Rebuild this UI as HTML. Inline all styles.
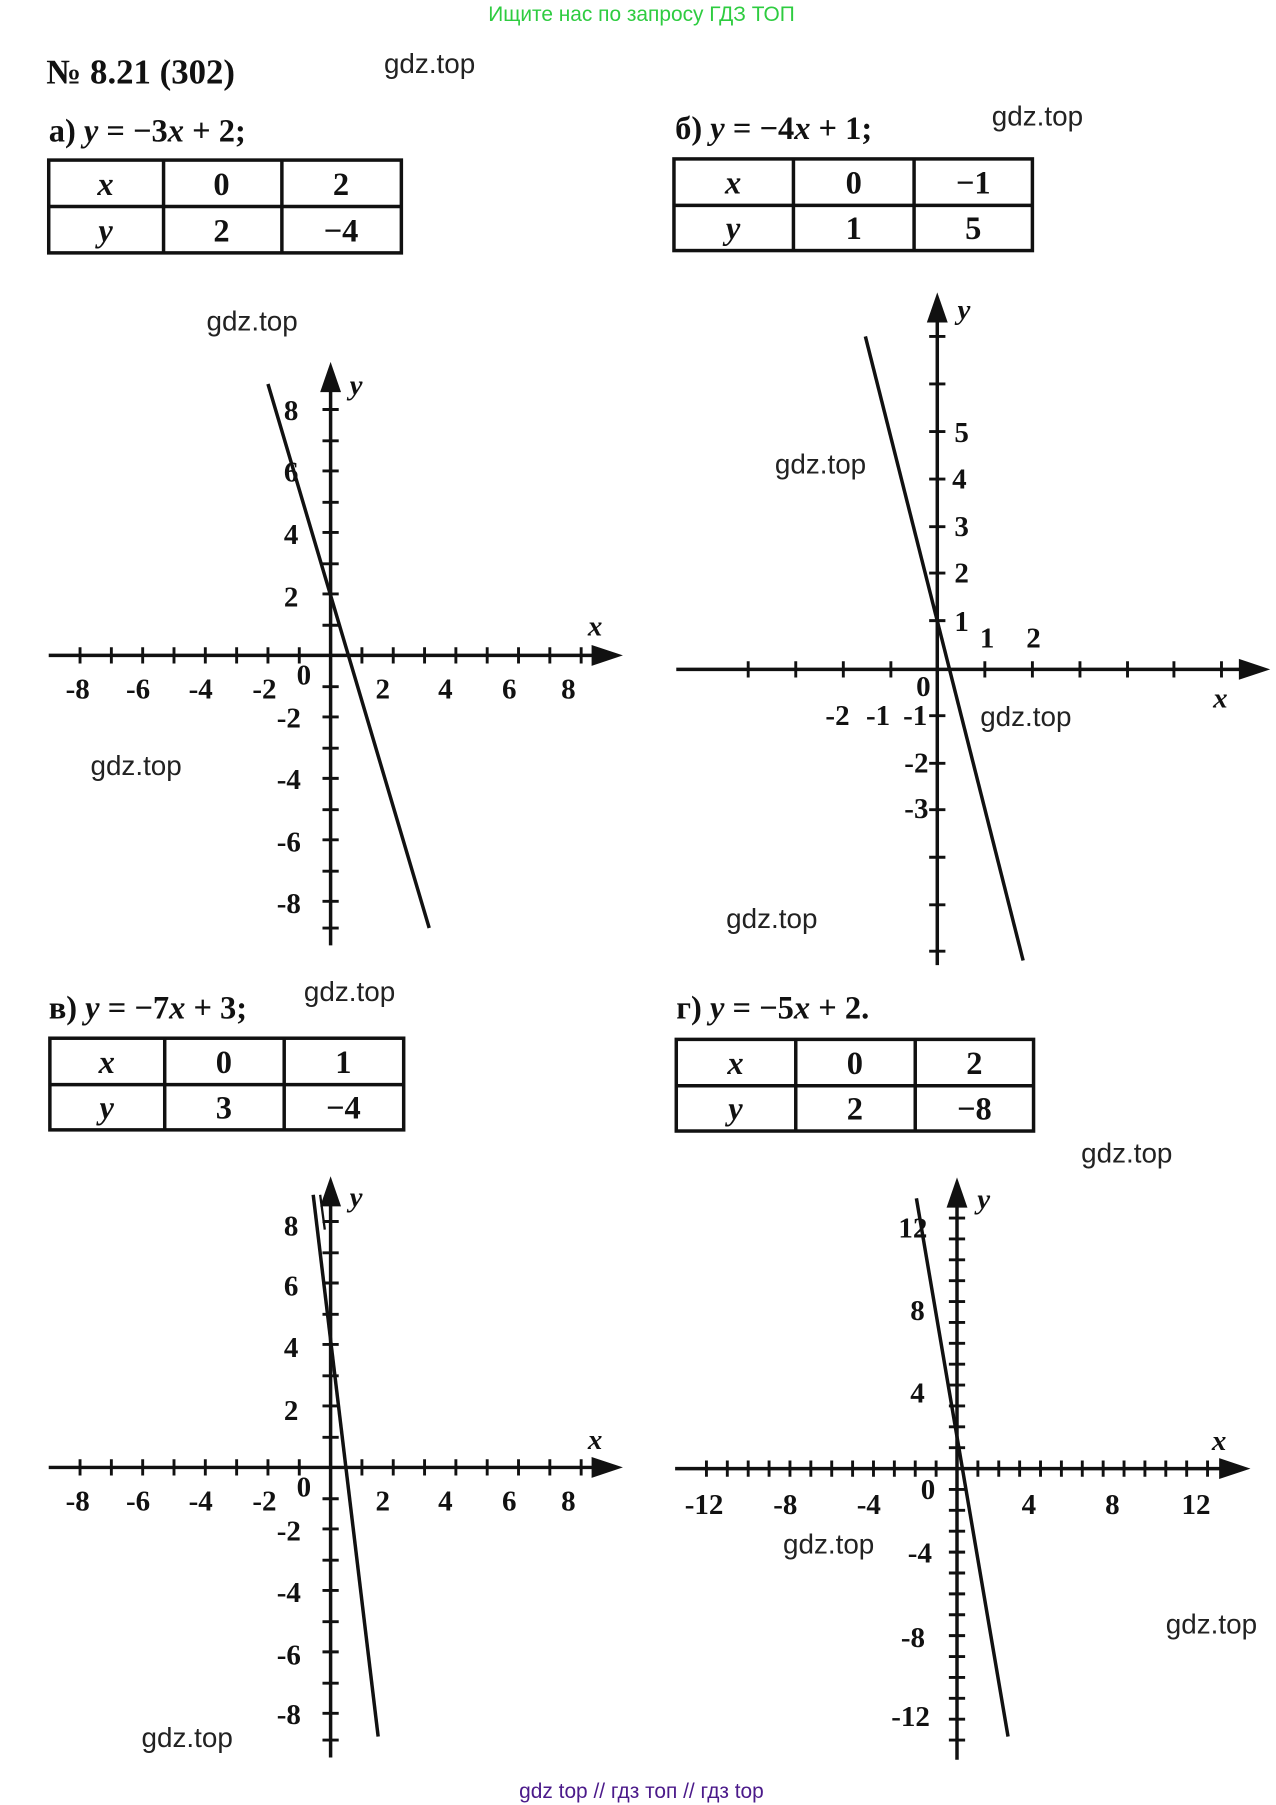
<!DOCTYPE html>
<html><head><meta charset="utf-8"><style>
html,body{margin:0;padding:0;background:#fff;}
svg{display:block}
.m{font-family:"Liberation Serif",serif;font-weight:bold;fill:#111}
.i{font-style:italic}
.w{font-family:"Liberation Sans","DejaVu Sans",sans-serif;font-size:24px;fill:#222}
.n{font-family:"Liberation Serif",serif;font-weight:bold;font-size:25px;fill:#111}
</style></head><body>
<svg width="1276" height="1805" viewBox="0 0 1100 1556" preserveAspectRatio="none" xmlns="http://www.w3.org/2000/svg">
<rect width="1100" height="1556" fill="#fff"/>
<text x="553" y="18" text-anchor="middle" font-family="Liberation Sans,sans-serif" font-size="18" fill="#2ecc40">Ищите нас по запросу ГДЗ ТОП</text>
<text x="553" y="1550" text-anchor="middle" font-family="Liberation Sans,sans-serif" font-size="18" fill="#4b1a8a">gdz top  //  гдз топ  //  гдз top</text>

<text x="40" y="72" class="m" font-size="30">№ 8.21 (302)</text>
<g class="w">
<text x="331" y="63">gdz.top</text>
<text x="855" y="108">gdz.top</text>
<text x="178" y="285">gdz.top</text>
<text x="668" y="408">gdz.top</text>
<text x="845" y="626">gdz.top</text>
<text x="78" y="668">gdz.top</text>
<text x="626" y="800">gdz.top</text>
<text x="262" y="863">gdz.top</text>
<text x="932" y="1002">gdz.top</text>
<text x="675" y="1339">gdz.top</text>
<text x="1005" y="1408">gdz.top</text>
<text x="122" y="1506">gdz.top</text>
</g>

<text x="42" y="122" class="m" font-size="28">а) <tspan class="i">y</tspan> = −3<tspan class="i">x</tspan> + 2;</text>
<text x="582" y="120" class="m" font-size="28">б) <tspan class="i">y</tspan> = −4<tspan class="i">x</tspan> + 1;</text>
<text x="42" y="878" class="m" font-size="28">в) <tspan class="i">y</tspan> = −7<tspan class="i">x</tspan> + 3;</text>
<text x="583" y="878" class="m" font-size="28">г) <tspan class="i">y</tspan> = −5<tspan class="i">x</tspan> + 2.</text>

<g fill="none" stroke="#111" stroke-width="3">
<rect x="42" y="138" width="304" height="80"/><line x1="42" y1="178" x2="346" y2="178"/><line x1="141" y1="138" x2="141" y2="218"/><line x1="243" y1="138" x2="243" y2="218"/>
<rect x="581" y="137" width="309" height="79"/><line x1="581" y1="177" x2="890" y2="177"/><line x1="684" y1="137" x2="684" y2="216"/><line x1="788" y1="137" x2="788" y2="216"/>
<rect x="43" y="895" width="305" height="79"/><line x1="43" y1="935" x2="348" y2="935"/><line x1="142" y1="895" x2="142" y2="974"/><line x1="245" y1="895" x2="245" y2="974"/>
<rect x="583" y="896" width="308" height="79"/><line x1="583" y1="936" x2="891" y2="936"/><line x1="686" y1="896" x2="686" y2="975"/><line x1="789" y1="896" x2="789" y2="975"/>
</g>
<g class="m" font-size="28" text-anchor="middle">
<text x="91" y="168" class="i">x</text><text x="191" y="168">0</text><text x="294" y="168">2</text>
<text x="91" y="208" class="i">y</text><text x="191" y="208">2</text><text x="294" y="208">−4</text>
<text x="632" y="167" class="i">x</text><text x="736" y="167">0</text><text x="839" y="167">−1</text>
<text x="632" y="206" class="i">y</text><text x="736" y="206">1</text><text x="839" y="206">5</text>
<text x="92" y="925" class="i">x</text><text x="193" y="925">0</text><text x="296" y="925">1</text>
<text x="92" y="964" class="i">y</text><text x="193" y="964">3</text><text x="296" y="964">−4</text>
<text x="634" y="926" class="i">x</text><text x="737" y="926">0</text><text x="840" y="926">2</text>
<text x="634" y="965" class="i">y</text><text x="737" y="965">2</text><text x="840" y="965">−8</text>
</g>

<g stroke="#111" stroke-width="3" fill="none">
<line x1="42" y1="565" x2="520" y2="565"/><line x1="285" y1="815" x2="285" y2="330"/>
</g>
<polygon points="537,565 510,556 510,574" fill="#111"/>
<polygon points="285,312 276,338 294,338" fill="#111"/>
<g stroke="#111" stroke-width="2.5">
<path d="M69 558v14M96 558v14M123 558v14M150 558v14M177 558v14M204 558v14M231 558v14M258 558v14M312 558v14M339 558v14M366 558v14M393 558v14M420 558v14M447 558v14M474 558v14M501 558v14"/>
<path d="M278 353h14M278 380h14M278 406h14M278 433h14M278 459h14M278 486h14M278 512h14M278 539h14M278 592h14M278 618h14M278 645h14M278 671h14M278 698h14M278 724h14M278 751h14M278 777h14M278 800h14"/>
</g>
<line x1="231" y1="331" x2="370" y2="800" stroke="#111" stroke-width="3"/>
<g class="n" text-anchor="middle">
<text x="67" y="602">-8</text><text x="119" y="602">-6</text><text x="173" y="602">-4</text><text x="228" y="602">-2</text><text x="262" y="590">0</text><text x="330" y="602">2</text><text x="384" y="602">4</text><text x="439" y="602">6</text><text x="490" y="602">8</text>
<text x="251" y="362">8</text><text x="251" y="415">6</text><text x="251" y="469">4</text><text x="251" y="523">2</text><text x="249" y="627">-2</text><text x="249" y="680">-4</text><text x="249" y="734">-6</text><text x="249" y="787">-8</text>
<text x="307" y="340" class="i">y</text><text x="513" y="548" class="i">x</text>
</g>

<g stroke="#111" stroke-width="3">
<line x1="583" y1="577" x2="1075" y2="577"/><line x1="808" y1="832" x2="808" y2="270"/>
</g>
<polygon points="1095,577 1068,568 1068,586" fill="#111"/>
<polygon points="808,252 799,278 817,278" fill="#111"/>
<g stroke="#111" stroke-width="2.5">
<path d="M645 570v14M686 570v14M727 570v14M768 570v14M849 570v14M890 570v14M931 570v14M972 570v14M1012 570v14M1053 570v14"/>
<path d="M801 290h14M801 331h14M801 372h14M801 413h14M801 454h14M801 494h14M801 535h14M801 617h14M801 658h14M801 698h14M801 739h14M801 780h14M801 820h14"/>
</g>
<line x1="746" y1="290" x2="882" y2="828" stroke="#111" stroke-width="3"/>
<g class="n" text-anchor="middle" font-size="22">
<text x="829" y="381">5</text><text x="827" y="421">4</text><text x="829" y="462">3</text><text x="829" y="502">2</text><text x="829" y="544">1</text>
<text x="851" y="558">1</text><text x="891" y="558">2</text><text x="796" y="600">0</text>
<text x="722" y="625">-2</text><text x="757" y="625">-1</text><text x="789" y="625">-1</text>
<text x="790" y="666">-2</text><text x="790" y="705">-3</text>
<text x="831" y="275" class="i">y</text><text x="1052" y="610" class="i">x</text>
</g>

<g stroke="#111" stroke-width="3">
<line x1="42" y1="1265" x2="520" y2="1265"/><line x1="285" y1="1515" x2="285" y2="1032"/>
</g>
<polygon points="537,1265 510,1256 510,1274" fill="#111"/>
<polygon points="285,1014 276,1040 294,1040" fill="#111"/>
<g stroke="#111" stroke-width="2.5">
<path d="M69 1258v14M96 1258v14M123 1258v14M150 1258v14M177 1258v14M204 1258v14M231 1258v14M258 1258v14M312 1258v14M339 1258v14M366 1258v14M393 1258v14M420 1258v14M447 1258v14M474 1258v14M501 1258v14"/>
<path d="M278 1053h14M278 1080h14M278 1106h14M278 1133h14M278 1159h14M278 1186h14M278 1212h14M278 1239h14M278 1292h14M278 1318h14M278 1345h14M278 1371h14M278 1398h14M278 1424h14M278 1451h14M278 1477h14M278 1500h14"/>
</g>
<line x1="270" y1="1030" x2="326" y2="1497" stroke="#111" stroke-width="3"/>
<line x1="276" y1="1030" x2="280" y2="1060" stroke="#111" stroke-width="2"/>
<g class="n" text-anchor="middle">
<text x="67" y="1302">-8</text><text x="119" y="1302">-6</text><text x="173" y="1302">-4</text><text x="228" y="1302">-2</text><text x="262" y="1290">0</text><text x="330" y="1302">2</text><text x="384" y="1302">4</text><text x="439" y="1302">6</text><text x="490" y="1302">8</text>
<text x="251" y="1065">8</text><text x="251" y="1117">6</text><text x="251" y="1170">4</text><text x="251" y="1224">2</text><text x="249" y="1328">-2</text><text x="249" y="1381">-4</text><text x="249" y="1435">-6</text><text x="249" y="1486">-8</text>
<text x="307" y="1040" class="i">y</text><text x="513" y="1249" class="i">x</text>
</g>

<g stroke="#111" stroke-width="3">
<line x1="582" y1="1266" x2="1058" y2="1266"/><line x1="825" y1="1517" x2="825" y2="1033"/>
</g>
<polygon points="1078,1266 1051,1257 1051,1275" fill="#111"/>
<polygon points="825,1015 816,1041 834,1041" fill="#111"/>
<g stroke="#111" stroke-width="2.5">
<path d="M699 1259v14M717 1259v14M735 1259v14M753 1259v14M771 1259v14M789 1259v14M807 1259v14M843 1259v14M861 1259v14M879 1259v14M897 1259v14M915 1259v14M933 1259v14M951 1259v14M969 1259v14M987 1259v14M1005 1259v14M1023 1259v14M1041 1259v14M681 1259v14M663 1259v14M645 1259v14M627 1259v14M609 1259v14"/>
<path d="M818 1050h14M818 1068h14M818 1086h14M818 1104h14M818 1122h14M818 1140h14M818 1158h14M818 1176h14M818 1194h14M818 1212h14M818 1230h14M818 1248h14M818 1284h14M818 1302h14M818 1320h14M818 1338h14M818 1356h14M818 1374h14M818 1392h14M818 1410h14M818 1428h14M818 1446h14M818 1464h14M818 1482h14M818 1500h14"/>
</g>
<line x1="790" y1="1033" x2="869" y2="1497" stroke="#111" stroke-width="3"/>
<g class="n" text-anchor="middle">
<text x="607" y="1305">-12</text><text x="677" y="1305">-8</text><text x="749" y="1305">-4</text><text x="800" y="1292">0</text><text x="887" y="1305">4</text><text x="959" y="1305">8</text><text x="1031" y="1305">12</text>
<text x="787" y="1067">12</text><text x="791" y="1138">8</text><text x="791" y="1209">4</text><text x="793" y="1347">-4</text><text x="787" y="1420">-8</text><text x="785" y="1488">-12</text>
<text x="848" y="1042" class="i">y</text><text x="1051" y="1250" class="i">x</text>
</g>
</svg>
</body></html>
